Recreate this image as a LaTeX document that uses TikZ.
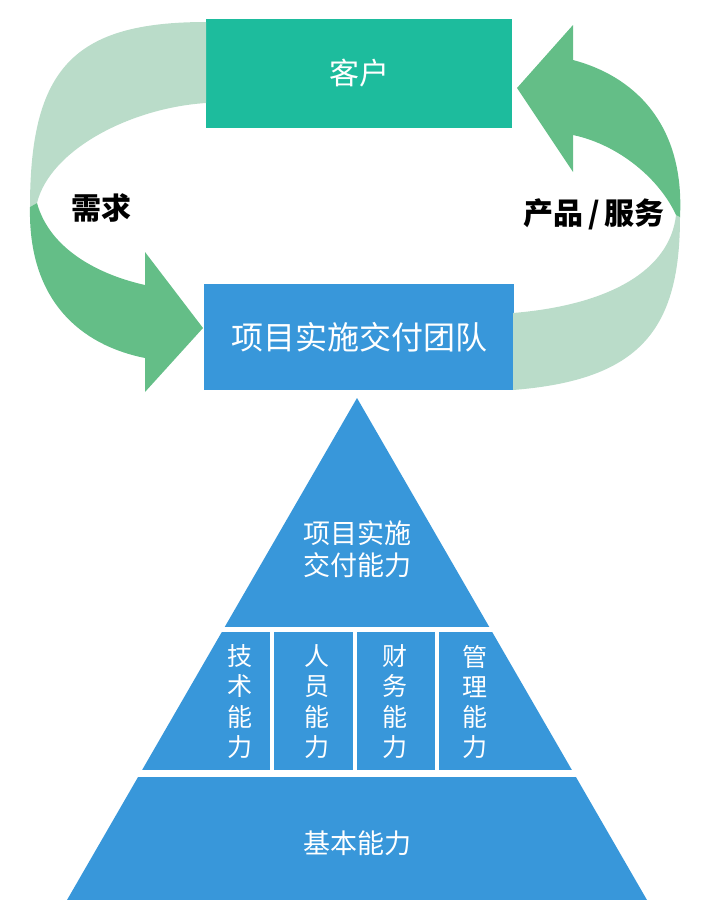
\documentclass[tikz,border=0pt]{standalone}
\usepackage{fontspec}
\setmainfont{Noto Sans CJK SC}
\definecolor{clientteal}{RGB}{29,188,157}
\definecolor{teamblue}{RGB}{56,151,218}
\definecolor{palegreen}{RGB}{186,220,201}
\definecolor{deepgreen}{RGB}{100,190,135}
\tikzset{
    block/.style={
           rectangle,
           fill=teamblue,
           text=white,
           inner sep=2pt,
           text centered,
           font=\fontsize{30}{36}\selectfont
           },
    flowlabel/.style={
           text=black,
           inner sep=1pt,
           font=\bfseries\fontsize{30}{34}\selectfont
           },
    tier/.style={
           text=white,
           inner sep=0pt,
           font=\fontsize{25}{30}\selectfont
           },
    gap/.style={draw=white, line width=5pt},
}

\begin{document}
\begin{tikzpicture}[x=1pt,y=-1pt]
            \useasboundingbox (0,0) rectangle (705,900);

             \node[block, fill=clientteal,
              minimum width=306pt, minimum height=109pt] (CLIENT)
              at (359,73.5) {客户};

             \node[block,
              minimum width=310pt, minimum height=106pt,
              below of=CLIENT,
              node distance=263.5pt,
              anchor=center,
              font=\fontsize{32}{36}\selectfont] (TEAM)
             {项目实施交付团队};

%            demand ribbon, left side
             \fill[palegreen] (206,22) .. controls (74,22) and (30,68) .. (30,207)
                 -- (37,203) .. controls (50,150) and (130,108) .. (206,103) -- cycle;
             \fill[deepgreen] (30,207) .. controls (28,300) and (80,345) .. (145,358)
                 -- (145,392) -- (203,328) -- (145,252) -- (145,285)
                 .. controls (100,275) and (50,250) .. (37,203) -- cycle;

%            delivery ribbon, right side
             \fill[palegreen] (513,390) .. controls (640,380) and (680,330) .. (680,217)
                 -- (676,215) .. controls (670,270) and (610,305) .. (513,313) -- cycle;
             \fill[deepgreen] (680,217) .. controls (685,120) and (630,75) .. (573,60)
                 -- (573,25) -- (517,88) -- (573,172) -- (573,135)
                 .. controls (620,145) and (660,180) .. (676,215) -- cycle;

             \node[flowlabel] (NEED) at (101,208) {需求};
             \node[flowlabel] (OFFER) at (594,214) {产品\,/\,服务};

%            capability pyramid
             \fill[teamblue] (357,398) -- (647,900) -- (67,900) -- cycle;
             \draw[gap] (60,629.5) -- (660,629.5);
             \draw[gap, line width=6.5pt] (60,773.5) -- (660,773.5);
             \foreach \x in {272,355,437}
                 \draw[gap, line width=4pt] (\x,632) -- (\x,771);

             \node[tier, font=\fontsize{27}{30}\selectfont] (CORE) at (357,553)
             {\begin{tabular}{c}
              项目实施\\
              交付能力
              \end{tabular}};

             \node[tier] (TECH) at (240,705)
             {\begin{tabular}{c} 技\\ 术\\ 能\\ 力 \end{tabular}};
             \node[tier] (STAFF) at (317,705)
             {\begin{tabular}{c} 人\\ 员\\ 能\\ 力 \end{tabular}};
             \node[tier] (FIN) at (395,705)
             {\begin{tabular}{c} 财\\ 务\\ 能\\ 力 \end{tabular}};
             \node[tier] (MGMT) at (475,705)
             {\begin{tabular}{c} 管\\ 理\\ 能\\ 力 \end{tabular}};

             \node[tier, font=\fontsize{27}{30}\selectfont] (BASE) at (357,843) {基本能力};

        \end{tikzpicture}
\end{document}
